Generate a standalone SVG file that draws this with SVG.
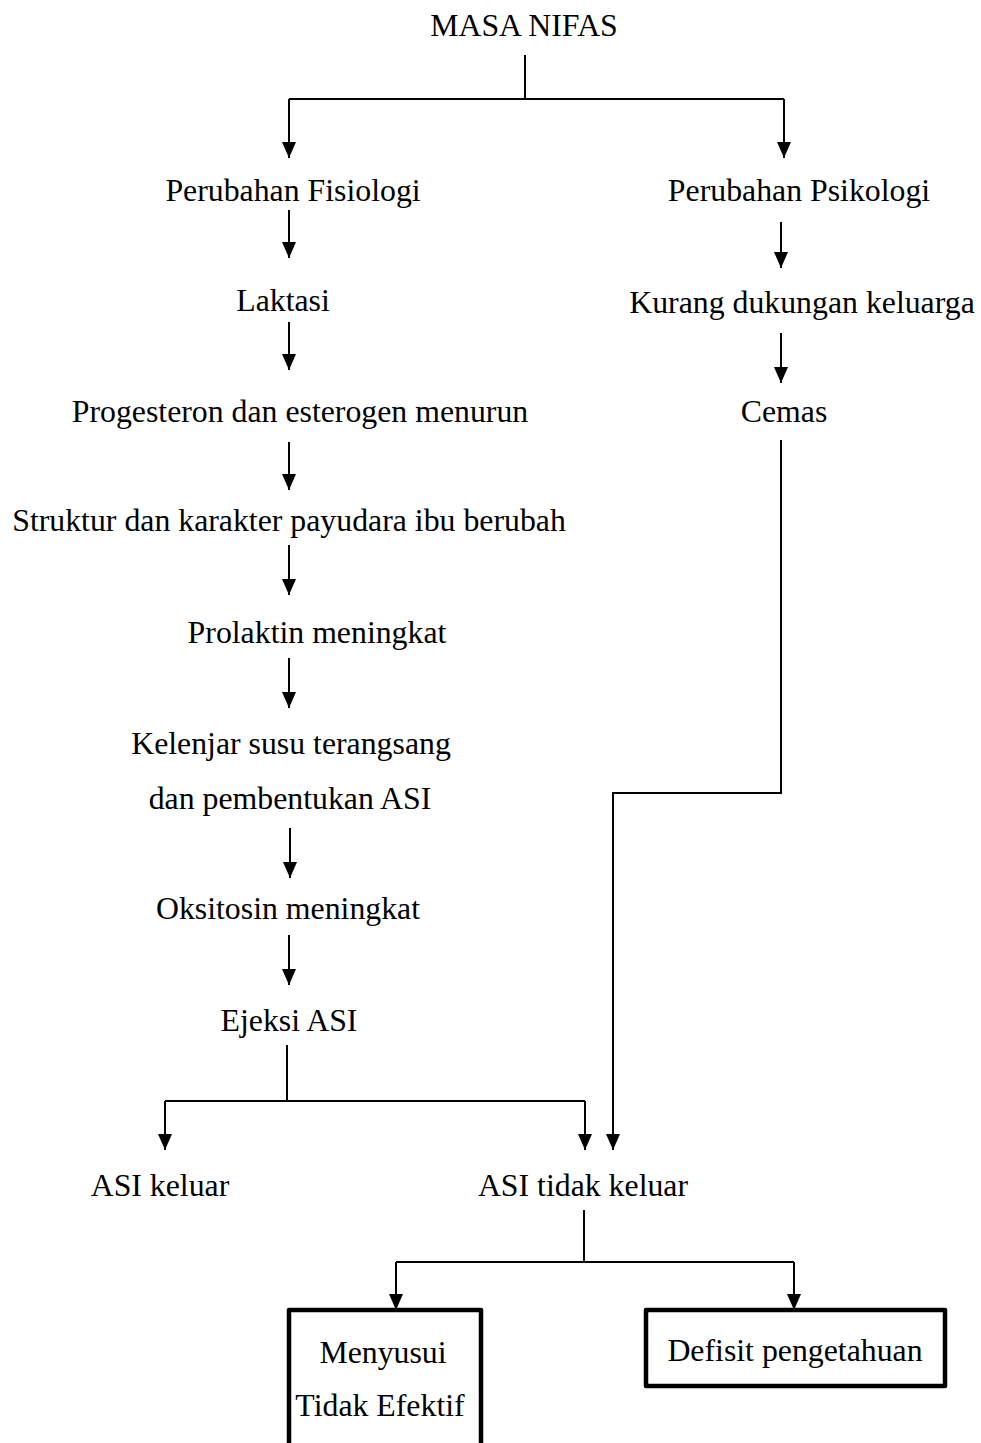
<svg xmlns="http://www.w3.org/2000/svg" width="981" height="1443" viewBox="0 0 981 1443">
<style>
text{font-family:"Liberation Serif","Times New Roman",serif;font-size:31.8px;fill:#000;text-anchor:middle}
.ln{stroke:#000;stroke-width:2;fill:none}
.ar{stroke:#000;stroke-width:2;fill:none;marker-end:url(#ah)}
.bx{stroke:#000;stroke-width:4.5;fill:#fff;stroke-linejoin:round}
</style>
<defs>
<marker id="ah" markerUnits="userSpaceOnUse" markerWidth="16" markerHeight="14" refX="16" refY="7" orient="auto" viewBox="0 0 16 14">
<path d="M0,0 L16,7 L0,14 Z" fill="#000"/>
</marker>
</defs>
<rect width="981" height="1443" fill="#fff"/>
<g id="connectors">
<path class="ln" d="M525,55 V99 M289,99 H784"/>
<path class="ar" d="M289,99 V158"/>
<path class="ar" d="M784,99 V158"/>
<path class="ar" d="M289,210 V258"/>
<path class="ar" d="M289,322 V370"/>
<path class="ar" d="M289,442 V490"/>
<path class="ar" d="M289,545 V595"/>
<path class="ar" d="M289,658 V708"/>
<path class="ar" d="M290,828 V878"/>
<path class="ar" d="M289,935 V985"/>
<path class="ln" d="M287,1045 V1101 M165,1101 H585"/>
<path class="ar" d="M165,1101 V1150"/>
<path class="ar" d="M585,1101 V1150"/>
<path class="ar" d="M781,222 V268"/>
<path class="ar" d="M781,333 V383"/>
<path class="ar" d="M781,440 V793 H613 V1150"/>
<path class="ln" d="M584,1210 V1262 M396,1262 H794"/>
<path class="ar" d="M396,1262 V1310"/>
<path class="ar" d="M794,1262 V1310"/>
</g>
<g id="n-masa"><text x="524" y="36">MASA NIFAS</text></g>
<g id="n-fisiologi"><text x="293" y="201">Perubahan Fisiologi</text></g>
<g id="n-psikologi"><text x="799" y="201">Perubahan Psikologi</text></g>
<g id="n-laktasi"><text x="283" y="311">Laktasi</text></g>
<g id="n-kurang"><text x="802" y="313">Kurang dukungan keluarga</text></g>
<g id="n-progesteron"><text x="300" y="422">Progesteron dan esterogen menurun</text></g>
<g id="n-cemas"><text x="784" y="422">Cemas</text></g>
<g id="n-struktur"><text x="289" y="531">Struktur dan karakter payudara ibu berubah</text></g>
<g id="n-prolaktin"><text x="317" y="643">Prolaktin meningkat</text></g>
<g id="n-kelenjar"><text x="291" y="754">Kelenjar susu terangsang</text><text x="290" y="809">dan pembentukan ASI</text></g>
<g id="n-oksitosin"><text x="288" y="919">Oksitosin meningkat</text></g>
<g id="n-ejeksi"><text x="289" y="1031">Ejeksi ASI</text></g>
<g id="n-asikeluar"><text x="160" y="1196">ASI keluar</text></g>
<g id="n-asitidak"><text x="583" y="1196">ASI tidak keluar</text></g>
<g id="n-menyusui"><rect class="bx" x="289" y="1310" width="192" height="150"/><text x="383" y="1363">Menyusui</text><text x="380" y="1416">Tidak Efektif</text></g>
<g id="n-defisit"><rect class="bx" x="646" y="1310" width="299" height="76"/><text x="795" y="1361">Defisit pengetahuan</text></g>
</svg>
